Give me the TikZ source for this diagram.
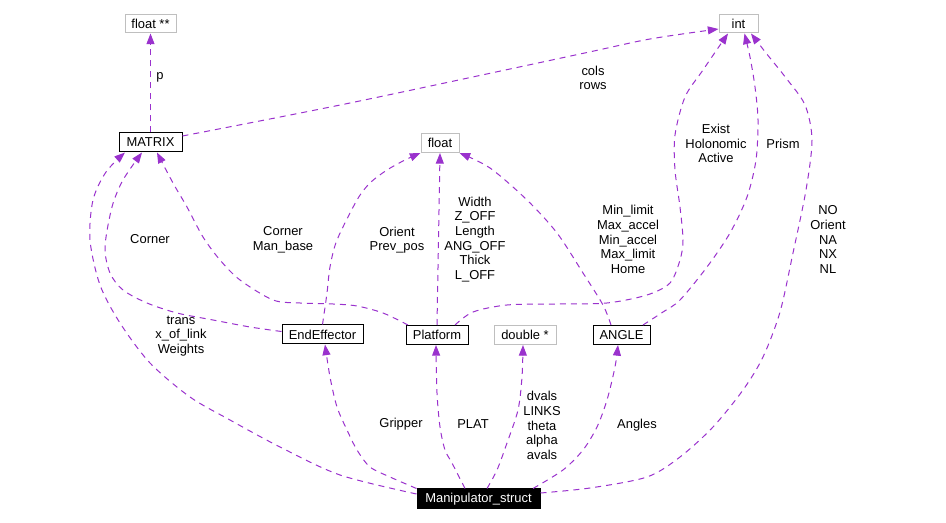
\documentclass[tikz,border=0pt]{standalone}
\usepackage{fontspec}
\setmainfont{Liberation Sans}
\usetikzlibrary{arrows.meta,calc}
\definecolor{edgecol}{HTML}{9A32CD}
\definecolor{boxgray}{HTML}{BFBFBF}
\begin{document}
\begin{tikzpicture}[x=0.75pt,y=-0.75pt,
  every node/.style={font=\fontsize{9.7}{11}\selectfont},
  cls/.style={draw=black, line width=0.75pt, inner sep=0pt, minimum height=14.25pt, anchor=center},
  ext/.style={cls, draw=boxgray},
  mainbox/.style={cls, fill=black, text=white, minimum height=15pt},
  lbl/.style={align=center, inner sep=0pt},
  rel/.style={draw=edgecol, line width=0.75pt, dash pattern=on 4.5pt off 3.75pt,
    -{Triangle[length=8pt,width=6pt]}},
]
\useasboundingbox (0,0) rectangle (946,523);

% nodes
\node[ext, minimum width=38.25pt, minimum height=13.5pt] (fpp) at (150.5,24) {float **};
\node[ext, minimum width=29.25pt, minimum height=13.5pt] (int) at (738.5,24) {int};
\node[cls, minimum width=47.25pt] (mat) at (150.5,142.5) {MATRIX};
\node[ext, minimum width=28.5pt] (flt) at (440,143) {float};
\node[cls, minimum width=60.75pt] (ee) at (322.5,334.5) {EndEffector};
\node[cls, minimum width=46.5pt] (plat) at (437,335) {Platform};
\node[ext, minimum width=46.5pt] (dbl) at (525,335) {double *};
\node[cls, minimum width=42.75pt] (ang) at (621.5,335) {ANGLE};
\node[mainbox, minimum width=92.25pt] (ms) at (478.5,499) {Manipulator\_struct};

% endpoints
\coordinate (pS) at (mat.north);
\coordinate (pE) at (fpp.south);
\coordinate (crS) at ($(mat.east)+(0,-6.5)$);
\coordinate (crE) at ($(int.west)+(0,5)$);
\coordinate (trS) at ($(ms.west)+(0,-5)$);
\coordinate (trE) at ($(mat.south)+(-25.5,0)$);
\coordinate (coS) at ($(ee.west)+(0,-3)$);
\coordinate (coE) at ($(mat.south)+(-8.5,0)$);
\coordinate (cmS) at ($(plat.north)+(-29,0)$);
\coordinate (cmE) at ($(mat.south)+(6.5,0)$);
\coordinate (orS) at (ee.north);
\coordinate (orE) at (flt.south west);
\coordinate (wiS) at (plat.north);
\coordinate (wiE) at (flt.south);
\coordinate (miS) at ($(ang.north)+(-10.5,0)$);
\coordinate (miE) at (flt.south east);
\coordinate (exS) at ($(plat.north)+(18,0)$);
\coordinate (exE) at ($(int.south)+(-10.5,0)$);
\coordinate (prS) at ($(ang.north)+(21.5,0)$);
\coordinate (prE) at ($(int.south)+(6,0)$);
\coordinate (noS) at ($(ms.east)+(0,-6)$);
\coordinate (noE) at ($(int.south)+(12.5,0)$);
\coordinate (grS) at (ms.north west);
\coordinate (grE) at ($(ee.south)+(2.5,0)$);
\coordinate (plS) at ($(ms.north)+(-13.5,0)$);
\coordinate (plE) at ($(plat.south)+(-1,0)$);
\coordinate (dvS) at ($(ms.north)+(8.5,0)$);
\coordinate (dvE) at ($(dbl.south)+(-2,0)$);
\coordinate (anS) at ($(ms.north)+(54.5,0)$);
\coordinate (anE) at ($(ang.south)+(-3.5,0)$);

% edges
\draw[rel] (pS) -- (pE);
\draw[rel] plot[smooth] coordinates {(crS) (350,103) (580,54) (650,39) (crE)};
\draw[rel] plot[smooth] coordinates {(trS) (340,475) (280,447) (230,420) (190,397) (150,363) (120,323) (100,285) (90,240) (93,200) (106,172) (trE)};
\draw[rel] plot[smooth] coordinates {(coS) (250,327) (213,320) (177,313) (147,303) (123,290) (110,273) (105,247) (112,207) (123,180) (coE)};
\draw[rel] plot[smooth] coordinates {(cmS) (383,313) (357,306) (333,304) (300,303) (273,300) (240,280) (220,260) (203,237) (187,207) (173,183) (cmE)};
\draw[rel] plot[smooth] coordinates {(orS) (327,293) (330,267) (337,240) (357,200) (370,183) (387,170) (405,160) (orE)};
\draw[rel] (wiS) -- (wiE);
\draw[rel] plot[smooth] coordinates {(miS) (603,305) (583,273) (557,233) (527,200) (490,168) (miE)};
\draw[rel] plot[smooth] coordinates {(exS) (473,312) (507,305) (557,304) (607,303) (647,295) (670,283) (680,260) (683,240) (680,207) (675,170) (675,135) (685,97) (703,70) (exE)};
\draw[rel] plot[smooth] coordinates {(prS) (663,312) (680,300) (707,267) (730,233) (747,197) (756,160) (758,120) (755,87) (750,57) (prE)};
\draw[rel] plot[smooth] coordinates {(noS) (590,488) (647,477) (680,457) (713,427) (743,390) (763,357) (780,312) (793,253) (806,190) (812,140) (805,105) (786,78) (766,53) (noE)};
\draw[rel] plot[smooth] coordinates {(grS) (390,477) (370,467) (357,450) (347,430) (337,407) (330,377) (grE)};
\draw[rel] plot[smooth] coordinates {(plS) (452,463) (445,450) (440,427) (437,393) (plE)};
\draw[rel] plot[smooth] coordinates {(dvS) (497,470) (507,443) (518,410) (522,377) (dvE)};
\draw[rel] plot[smooth] coordinates {(anS) (563,470) (583,450) (597,427) (607,400) (615,367) (anE)};

% labels
\node[lbl] (lp) at (160,77) {p};
\node[lbl] (lcr) at (593,78) {cols\\rows};
\node[lbl] (lco) at (150,239) {Corner};
\node[lbl] (lcm) at (283,240) {Corner\\Man\_base};
\node[lbl] (lor) at (397,240) {Orient\\Prev\_pos};
\node[lbl] (lwi) at (475,239.5) {Width\\Z\_OFF\\Length\\ANG\_OFF\\Thick\\L\_OFF};
\node[lbl] (lmi) at (628,239.5) {Min\_limit\\Max\_accel\\Min\_accel\\Max\_limit\\Home};
\node[lbl] (lex) at (716,143.5) {Exist\\Holonomic\\Active};
\node[lbl] (lpr) at (783,143.5) {Prism};
\node[lbl] (lno) at (828,239.5) {NO\\Orient\\NA\\NX\\NL};
\node[lbl] (ltr) at (181,336) {trans\\x\_of\_link\\Weights};
\node[lbl] (lgr) at (401,424) {Gripper};
\node[lbl] (lpl) at (473,424) {PLAT};
\node[lbl] (ldv) at (542,425.5) {dvals\\LINKS\\theta\\alpha\\avals};
\node[lbl] (lan) at (637,425) {Angles};
\end{tikzpicture}
\end{document}
